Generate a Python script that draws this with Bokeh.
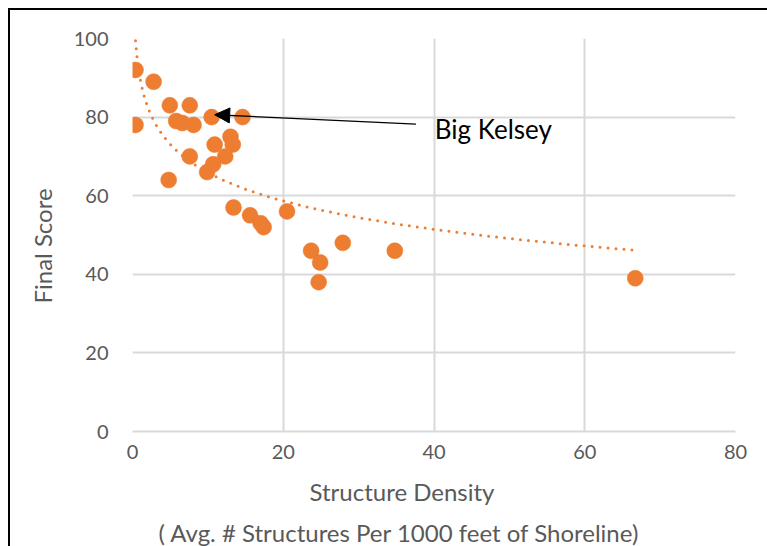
import numpy as np
from bokeh.plotting import figure
from bokeh.models import Range1d, Arrow, NormalHead, Label, FixedTicker, Title
from bokeh.embed import file_html
from bokeh.resources import INLINE

density = [0.4, 2.8, 4.95, 7.6, 0.4, 5.8, 6.6, 8.1, 10.5, 14.6, 13.0, 13.3, 10.9,
           12.3, 7.6, 10.7, 9.9, 4.8, 13.4, 15.6, 17.0, 17.4, 20.5, 23.7, 24.9,
           24.7, 27.9, 34.8, 66.7]
score = [92, 89, 83, 83, 78, 79, 78.5, 78, 80, 80, 75, 73, 73,
         70, 70, 68, 66, 64, 57, 55, 53, 52, 56, 46, 43,
         38, 48, 46, 39]
x_ticks = [0, 20, 40, 60, 80]
y_ticks = [0, 20, 40, 60, 80, 100]
x_title_1 = "Structure Density"
x_title_2 = "( Avg. # Structures Per 1000 feet of Shoreline)"
y_title = "Final Score"
label_text = "Big Kelsey"
arrow_from = (37.6, 78.2)
arrow_to = (10.9, 80.6)

ORANGE = "#ED7D31"
GREY = "#595959"
GRID = "#D9D9D9"
FONT = "Lato"

p = figure(output_backend="svg", toolbar_location=None,
           frame_width=603, frame_height=393,
           min_border_left=122, min_border_right=32,
           min_border_top=28, min_border_bottom=115,
           x_range=Range1d(0, 80), y_range=Range1d(0, 100))
p.styles = {"margin-left": "8px", "margin-top": "8px",
            "border-left": "2px solid black", "border-top": "2px solid black"}
p.outline_line_color = None
p.background_fill_color = "white"
p.border_fill_color = "white"

p.xaxis.ticker = FixedTicker(ticks=x_ticks)
p.yaxis.ticker = FixedTicker(ticks=y_ticks)
for ax in (p.xaxis, p.yaxis):
    ax.major_tick_line_color = None
    ax.minor_tick_line_color = None
    ax.major_label_text_font = FONT
    ax.major_label_text_font_size = "20px"
    ax.major_label_text_color = GREY
p.xaxis.axis_line_color = GRID
p.xaxis.axis_line_width = 2
p.yaxis.axis_line_color = None
p.xaxis.major_label_standoff = 7
p.yaxis.major_label_standoff = 18

p.xgrid.ticker = FixedTicker(ticks=x_ticks)
p.ygrid.ticker = FixedTicker(ticks=y_ticks)
p.xgrid.grid_line_color = GRID
p.ygrid.grid_line_color = GRID
p.xgrid.grid_line_width = 2
p.ygrid.grid_line_width = 2

# logarithmic trendline fitted from data
xd = np.array(density)
yd = np.array(score)
b, a = np.polyfit(np.log(xd), yd, 1)
xt = np.linspace(xd.min(), xd.max(), 400)
yt = a + b * np.log(xt)
p.line(xt, yt, line_color=ORANGE, line_width=3, line_dash="0 8", line_cap="round")

p.scatter(density, score, size=16, fill_color=ORANGE, line_color=ORANGE, line_width=0.5)

p.add_layout(Arrow(end=NormalHead(size=15, fill_color="black", line_color="black"),
                   x_start=arrow_from[0], y_start=arrow_from[1],
                   x_end=arrow_to[0], y_end=arrow_to[1],
                   line_color="black", line_width=1.3))
p.add_layout(Label(x=40.1, y=77.0, text=label_text, text_font=FONT,
                   text_font_size="26px", text_color="black",
                   text_baseline="middle", text_align="left"))

# axis titles
def make_title(text, offset, standoff):
    return Title(text=text, align="left", offset=offset, standoff=standoff,
                 text_font=FONT, text_font_size="24px", text_color=GREY,
                 text_font_style="normal")

p.add_layout(make_title(x_title_1, 177, 27), "below")
p.add_layout(make_title(x_title_2, 26, -8), "below")
p.add_layout(make_title(y_title, 128, 27), "left")

open("out.html", "w").write(file_html(p, INLINE))
